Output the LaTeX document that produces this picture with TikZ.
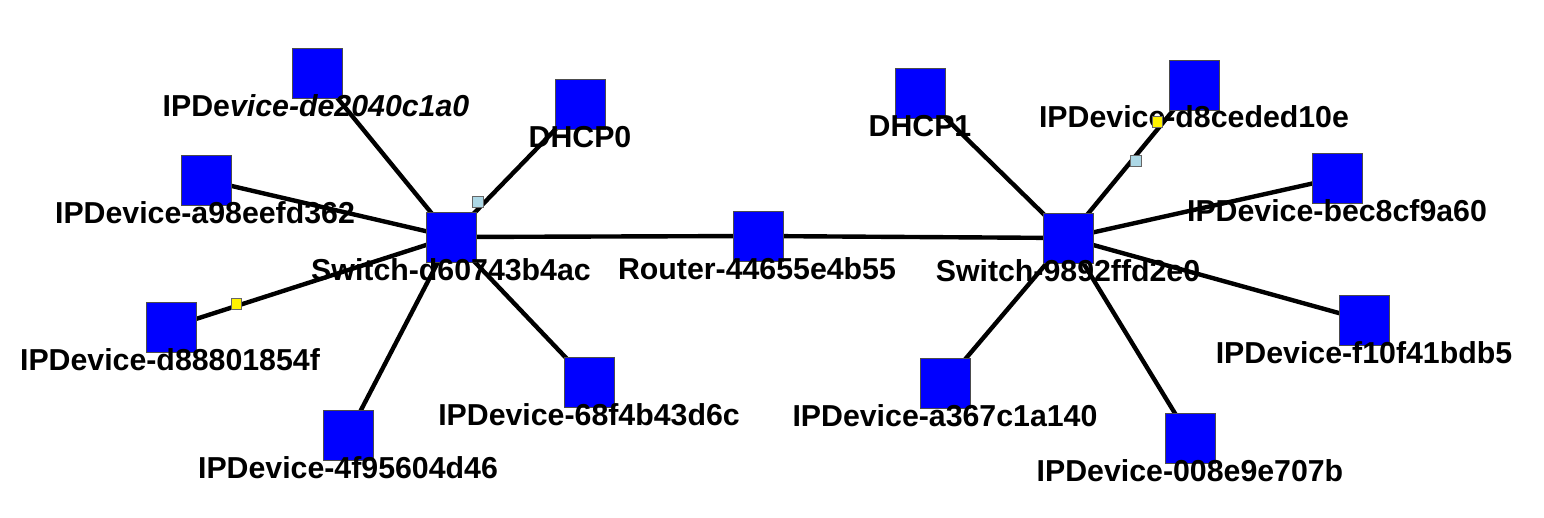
\documentclass[tikz,border=0pt]{standalone}
\usepackage{fontspec}
\setmainfont{Liberation Sans}
\definecolor{lightblue}{RGB}{173,216,230}
\begin{document}
\begin{tikzpicture}[x=1pt,y=-1pt,
  dev/.style={draw=black!70,line width=0.8pt,fill=blue,minimum width=50pt,minimum height=50pt,inner sep=0pt,outer sep=0pt},
  lbl/.style={font=\fontsize{30.3}{30}\selectfont\bfseries,inner sep=0pt,anchor=base},
  link/.style={line width=4.4pt,black},
  mkY/.style={draw=black!60,line width=0.6pt,fill=yellow,minimum width=10pt,minimum height=11pt,inner sep=0pt},
  mkB/.style={draw=black!60,line width=0.6pt,fill=lightblue,minimum width=11pt,minimum height=11pt,inner sep=0pt}]
\useasboundingbox[fill=white] (0,0) rectangle (1544,517);
% node positions
\coordinate (sw0) at (451,237);
\coordinate (rt) at (758,236);
\coordinate (sw1) at (1068,238);
\coordinate (de20) at (317,73);
\coordinate (dhcp0) at (580,104);
\coordinate (a98) at (206,180);
\coordinate (d888) at (171,327);
\coordinate (f956) at (348,435);
\coordinate (f4b) at (589,382);
\coordinate (dhcp1) at (920,93);
\coordinate (d8ce) at (1194,85);
\coordinate (bec8) at (1337,178);
\coordinate (f10f) at (1364,320);
\coordinate (a367) at (945,383);
\coordinate (e9e7) at (1190,438);
% links
\draw[link] (sw0) -- (rt);
\draw[link] (rt) -- (sw1);
\draw[link] (sw0) -- (de20);
\draw[link] (sw0) -- (dhcp0);
\draw[link] (sw0) -- (a98);
\draw[link] (sw0) -- (d888);
\draw[link] (sw0) -- (f956);
\draw[link] (sw0) -- (f4b);
\draw[link] (sw1) -- (dhcp1);
\draw[link] (sw1) -- (d8ce);
\draw[link] (sw1) -- (bec8);
\draw[link] (sw1) -- (f10f);
\draw[link] (sw1) -- (a367);
\draw[link] (sw1) -- (e9e7);
% squares
\foreach \n in {sw0,rt,sw1,de20,dhcp0,a98,d888,f956,f4b,dhcp1,d8ce,bec8,f10f,a367,e9e7}
  \node[dev] (sq-\n) at (\n) {};
% labels
\node[lbl] (tde20) at (316,116) {IPDe\textit{vice-de2040c1a0}};
\node[lbl] (tdhcp0) at (580,147) {DHCP0};
\node[lbl] (ta98) at (205,223) {IPDevice-a98eefd362};
\node[lbl] (tsw0) at (451,280) {Switch-d60743b4ac};
\node[lbl] (td888) at (170,370) {IPDevice-d88801854f};
\node[lbl] (tf956) at (348,478) {IPDevice-4f95604d46};
\node[lbl] (tf4b) at (589,425) {IPDevice-68f4b43d6c};
\node[lbl] (trt) at (757,279) {Router-44655e4b55};
\node[lbl] (tdhcp1) at (920,136) {DHCP1};
\node[lbl] (td8ce) at (1194,127) {IPDevice-d8ceded10e};
\node[lbl] (tsw1) at (1068,281) {Switch-9892ffd2e0};
\node[lbl] (tbec8) at (1337,221) {IPDevice-bec8cf9a60};
\node[lbl] (tf10f) at (1364,363) {IPDevice-f10f41bdb5};
\node[lbl] (ta367) at (945,426) {IPDevice-a367c1a140};
\node[lbl] (te9e7) at (1190,481) {IPDevice-008e9e707b};
% markers
\node[mkB] (m1) at (478,202) {};
\node[mkY] (m2) at (236,304) {};
\node[mkY] (m3) at (1157,122) {};
\node[mkB] (m4) at (1136,161) {};
\end{tikzpicture}
\end{document}
